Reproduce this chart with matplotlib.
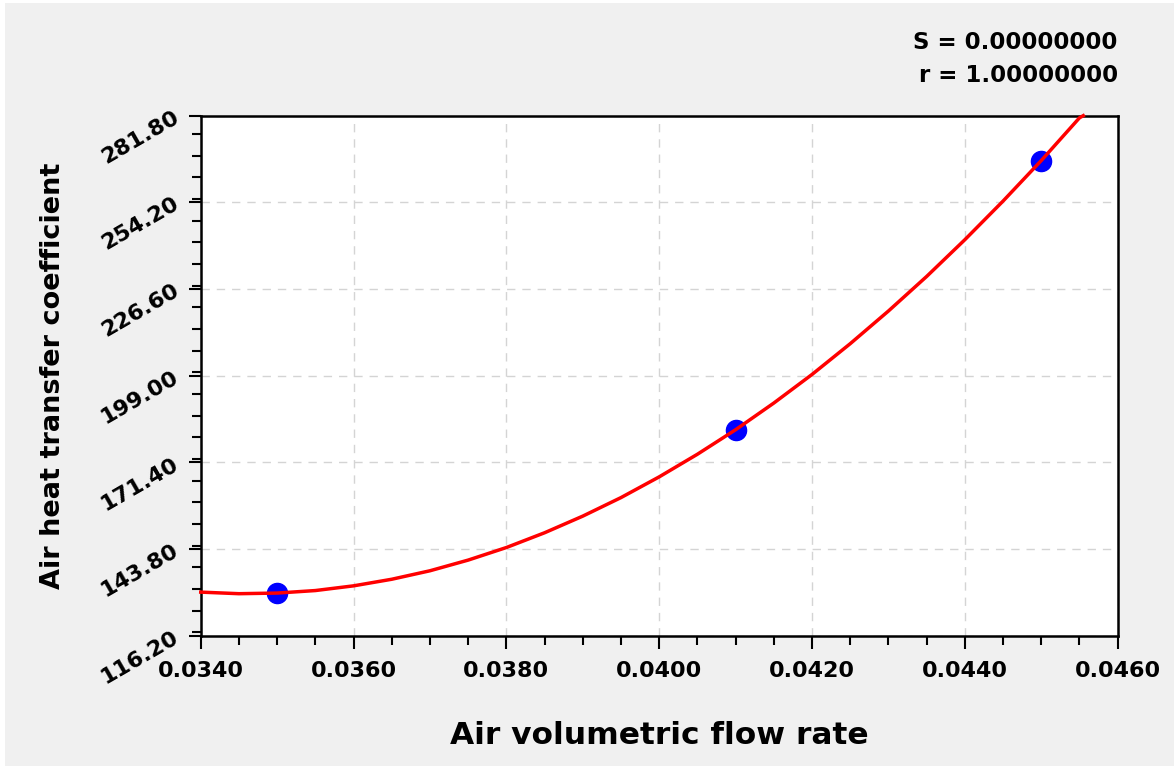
import numpy as np
import matplotlib.pyplot as plt
from matplotlib.ticker import MultipleLocator, FormatStrFormatter
from matplotlib.patches import Rectangle

# measured points
x_pts = [0.0350, 0.0410, 0.0450]
y_pts = [129.8, 181.8, 267.5]

# fitted curve
x_fit = [0.0340, 0.0345, 0.0350, 0.0355, 0.0360, 0.0365, 0.0370, 0.0375,
         0.0380, 0.0385, 0.0390, 0.0395, 0.0400, 0.0405, 0.0410, 0.0415,
         0.0420, 0.0425, 0.0430, 0.0435, 0.0440, 0.0445, 0.0450, 0.0455,
         0.04555]
y_fit = [130.1, 129.6, 129.8, 130.6, 132.1, 134.2, 136.9, 140.3,
         144.3, 149.0, 154.3, 160.2, 166.8, 174.0, 181.8, 190.3,
         199.4, 209.2, 219.6, 230.6, 242.3, 254.6, 267.5, 281.1,
         281.8]

x_ticks = [0.0340, 0.0360, 0.0380, 0.0400, 0.0420, 0.0440, 0.0460]
y_ticks = [116.20, 143.80, 171.40, 199.00, 226.60, 254.20, 281.80]

plt.rcParams['font.family'] = ['DejaVu Sans']
plt.rcParams['font.weight'] = 'bold'

fig = plt.figure(figsize=(11.74, 7.66), dpi=100, facecolor='white')
fig.patches.append(Rectangle((5/1174, 0), 1, 1 - 3/766, transform=fig.transFigure,
                             facecolor='#f0f0f0', edgecolor='none', zorder=-10))
ax = fig.add_axes([0.171, 0.170, 0.781, 0.679])
ax.set_facecolor('white')

ax.plot(x_pts, y_pts, 'o', color='#0000ff', markersize=14.5, zorder=3)
ax.plot(x_fit, y_fit, '-', color='#ff0000', lw=2.5, zorder=4, clip_on=False)

ax.set_xlim(x_ticks[0], x_ticks[-1])
ax.set_ylim(y_ticks[0], y_ticks[-1])
ax.set_xticks(x_ticks)
ax.set_yticks(y_ticks)
ax.xaxis.set_minor_locator(MultipleLocator(0.0005))
ax.yaxis.set_minor_locator(MultipleLocator(6.9))
ax.xaxis.set_major_formatter(FormatStrFormatter('%.4f'))
ax.yaxis.set_major_formatter(FormatStrFormatter('%.2f'))

ax.tick_params(which='major', length=9, width=1.5, labelsize=16, pad=6)
ax.tick_params(which='minor', length=6.5, width=1.5)
for lab in ax.get_yticklabels():
    lab.set_rotation(30)
    lab.set_rotation_mode('anchor')
    lab.set_ha('right')
    lab.set_va('center')
    lab.set_fontweight('bold')
for lab in ax.get_xticklabels():
    lab.set_fontweight('bold')
ax.tick_params(axis='x', pad=9)
ax.tick_params(axis='y', pad=8)

for s in ax.spines.values():
    s.set_linewidth(1.8)

ax.grid(True, which='major', ls=(0, (6, 5)), color='#d4d4d4', lw=1)
ax.set_axisbelow(True)

ax.set_xlabel('Air volumetric flow rate', fontsize=22.5, fontweight='bold')
ax.set_ylabel('Air heat transfer coefficient', fontsize=19.5, fontweight='bold')
ax.xaxis.set_label_coords(0.5, -0.163)
ax.yaxis.set_label_coords(-0.147, 0.50)

fig.text(0.952, 0.944, 'S = 0.00000000', ha='right', va='center', fontsize=16.5, fontweight='bold')
fig.text(0.952, 0.902, 'r = 1.00000000', ha='right', va='center', fontsize=16.5, fontweight='bold')

fig.savefig('out.png', dpi=100, facecolor=fig.get_facecolor())
